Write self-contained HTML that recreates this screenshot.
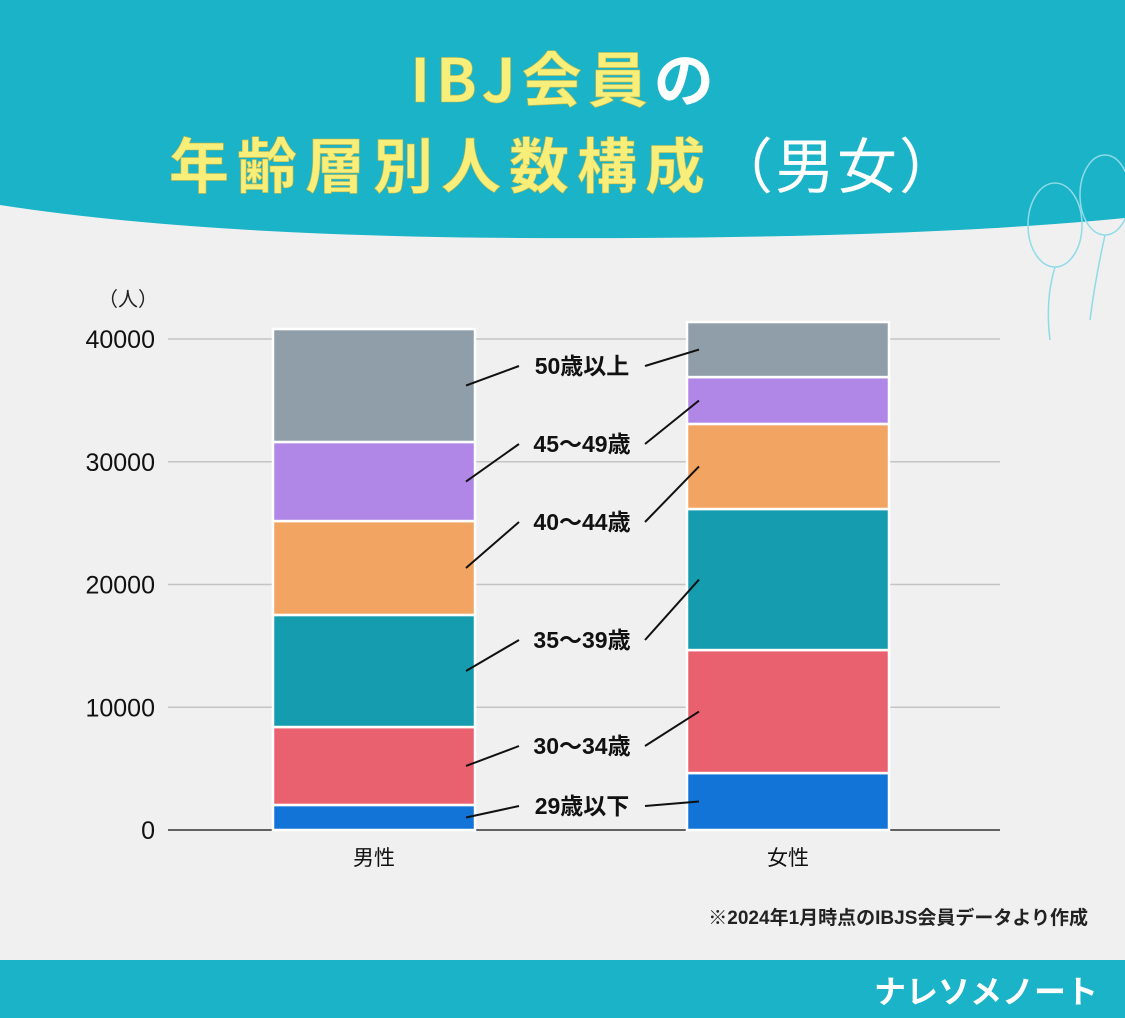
<!DOCTYPE html>
<html><head><meta charset="utf-8"><style>
body{margin:0;width:1125px;height:1018px;overflow:hidden;background:#f0f0f0;font-family:"Liberation Sans","Noto Sans CJK JP",sans-serif}
svg{display:block}
</style></head><body>
<svg width="1125" height="1018">
<path d="M0,0H1125V218Q900,240 520,238Q200,236 0,205Z" fill="#1ab3c8"/>
<text x="565" y="102" text-anchor="middle" font-size="60" font-weight="bold" letter-spacing="6" fill="#f7ef7a" stroke="#c9b94a" stroke-width="0.6" style="font-family:'Noto Sans CJK JP',sans-serif">IBJ会員<tspan fill="#fff" stroke="none">の</tspan></text>
<text x="565" y="188" text-anchor="middle" font-size="60" font-weight="bold" letter-spacing="8" fill="#f7ef7a" stroke="#c9b94a" stroke-width="0.6" style="font-family:'Noto Sans CJK JP',sans-serif">年齢層別人数構成<tspan fill="#fff" stroke="none" font-weight="normal" letter-spacing="2">（男女）</tspan></text>
<g fill="none" stroke="#8fdbe6" stroke-width="1.5">
<ellipse cx="1055" cy="225" rx="27" ry="42"/>
<ellipse cx="1105" cy="195" rx="25" ry="40"/>
<path d="M1055,267 Q1045,300 1050,340 M1105,235 Q1095,280 1090,320"/>
</g>
<text x="128" y="306" text-anchor="middle" font-size="20" fill="#222">（人）</text>
<g id="chart"></g>
<text x="1088" y="924" text-anchor="end" font-size="19" font-weight="bold" fill="#222">※2024年1月時点のIBJS会員データより作成</text>
<rect x="0" y="960" width="1125" height="58" fill="#1ab3c8"/>
<text x="1098" y="1003" text-anchor="end" font-size="32" font-weight="bold" fill="#fff">ナレソメノート</text>
</svg>
<script>
const categories=["男性","女性"];
const ageGroups=["29歳以下","30～34歳","35～39歳","40～44歳","45～49歳","50歳以上"];
const maleValues=[2040,6350,9130,7650,6440,9200];
const femaleValues=[4640,10020,11490,6930,3820,4480];
const colors=["#1174d6","#e9606f","#159caf","#f2a463","#b086e6","#8f9ea8"];
const yTicks=[0,10000,20000,30000,40000];
const labelY=[806,746,640,522,444,366];
const NS="http://www.w3.org/2000/svg";
const g=document.getElementById("chart");
const y=v=>830-v*0.012275;
const barX=[273,687], barW=202;
function mk(t,a){const e=document.createElementNS(NS,t);for(const k in a)e.setAttribute(k,a[k]);g.appendChild(e);return e;}
yTicks.forEach(t=>{
 const l=mk("line",{x1:168,x2:1000,y1:y(t),y2:y(t),stroke:t?"#c4c4c4":"#333","stroke-width":1.5});
 
 
 const tx=mk("text",{x:155,y:y(t)+9,"text-anchor":"end","font-size":25,fill:"#111"});tx.textContent=t;
 
 
});
const series=[maleValues,femaleValues];
const mids=[[],[]];
series.forEach((vals,bi)=>{
 let c=0;
 vals.forEach((v,i)=>{
  const r=mk("rect",{x:barX[bi],y:y(c+v),width:barW,height:y(c)-y(c+v),fill:colors[i],stroke:"#fff","stroke-width":2.5});
  
  
  mids[bi].push(y(c+v/2));c+=v;
 });
 const tx=mk("text",{x:barX[bi]+barW/2,y:865,"text-anchor":"middle","font-size":21,fill:"#111"});tx.textContent=categories[bi];
 
 
});
ageGroups.forEach((a,i)=>{
 const ly=labelY[i];
 const tx=mk("text",{x:582,y:ly+8,"text-anchor":"middle","font-size":23,"font-weight":"bold",fill:"#111"});tx.textContent=a;
 
 
 const l1=mk("line",{x1:466,y1:mids[0][i],x2:519,y2:ly,stroke:"#111","stroke-width":2});
 
 
 const l2=mk("line",{x1:645,y1:ly,x2:699,y2:mids[1][i],stroke:"#111","stroke-width":2});
 
 
});
</script>
</body></html>
